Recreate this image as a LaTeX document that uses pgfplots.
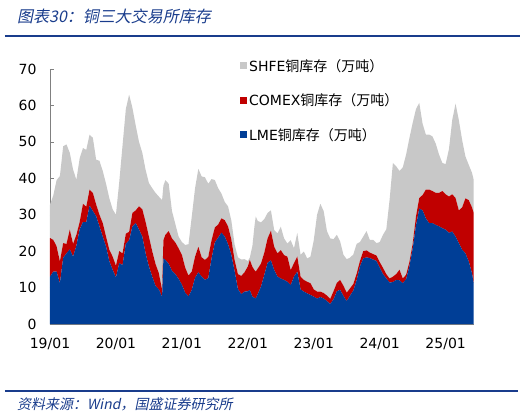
\documentclass[border=0pt]{standalone}
\usepackage{fontspec}
\setmainfont{DejaVu Sans}
\newfontfamily\cjk{Noto Sans CJK SC}
\newfontfamily\cjkit[FakeSlant=0.2]{Noto Sans CJK SC}
\usepackage{pgfplots}
\pgfplotsset{compat=1.18}
\usepackage{pgfplotstable}
\definecolor{shfec}{RGB}{200,200,200}
\definecolor{comexc}{RGB}{192,0,0}
\definecolor{lmec}{RGB}{0,62,150}
\definecolor{hdr}{RGB}{25,60,140}
\definecolor{axisgray}{RGB}{128,128,128}

\pgfplotstableread{
t lme comex shfe
0.00 13.0 10.6 9.2
0.05 14.4 8.7 12.2
0.10 14.4 6.9 18.2
0.15 11.2 6.0 23.4
0.20 18.2 4.0 26.6
0.25 19.4 2.6 27.3
0.30 20.5 5.4 21.1
0.35 18.5 3.5 20.4
0.40 21.5 3.0 15.1
0.45 26.0 2.0 17.5
0.50 28.0 5.0 15.3
0.55 28.0 4.2 15.6
0.60 32.5 4.4 15.1
0.65 31.0 5.0 15.1
0.70 29.6 3.2 12.3
0.75 26.8 3.2 14.8
0.80 24.0 3.7 14.3
0.85 21.3 2.7 14.5
0.90 17.2 3.2 14.1
0.95 14.9 3.6 13.0
1.00 12.8 3.2 14.0
1.05 16.7 3.3 19.0
1.10 16.2 3.2 29.6
1.15 22.0 2.8 34.2
1.20 23.0 2.3 37.7
1.25 26.8 3.7 28.8
1.30 27.7 3.5 23.3
1.35 25.9 6.4 17.7
1.40 24.0 7.5 15.5
1.45 19.4 8.6 14.3
1.50 15.8 8.2 14.7
1.55 13.0 7.0 17.3
1.60 10.5 6.0 19.5
1.65 9.5 4.5 21.0
1.70 7.5 1.9 24.6
1.72 18.0 5.0 15.0
1.75 17.6 6.9 15.0
1.80 16.5 9.0 13.0
1.85 14.6 8.9 7.5
1.90 13.7 8.7 5.1
1.95 12.4 8.4 3.2
2.00 10.8 8.2 3.5
2.05 8.6 6.9 6.2
2.10 7.6 5.7 8.6
2.15 9.4 5.0 15.1
2.20 12.7 5.8 18.8
2.25 14.2 7.0 21.4
2.30 13.0 5.3 22.2
2.35 12.1 5.5 22.7
2.40 12.6 5.8 20.1
2.45 18.0 5.0 16.8
2.50 22.4 4.1 13.0
2.55 23.7 3.6 10.0
2.60 25.1 3.9 6.8
2.65 24.0 4.5 5.0
2.70 21.9 4.9 5.5
2.75 19.0 4.2 5.2
2.80 14.5 3.0 4.3
2.85 9.6 4.1 4.6
2.90 8.2 5.0 4.5
2.95 8.9 5.3 3.6
3.00 9.0 6.8 1.5
3.03 9.3 8.3 0.6
3.07 7.5 8.2 5.8
3.10 7.2 7.6 12.0
3.12 7.0 7.4 15.1
3.15 8.2 7.0 13.1
3.20 10.3 6.3 11.3
3.25 13.5 6.1 9.2
3.30 16.8 6.7 7.0
3.35 17.5 8.1 5.6
3.40 14.8 6.4 4.6
3.45 13.0 6.4 5.5
3.50 12.5 7.8 6.4
3.55 12.1 6.8 4.6
3.60 11.6 6.9 3.6
3.65 10.7 4.1 8.2
3.70 13.0 3.7 4.1
3.75 14.4 4.1 6.5
3.80 9.5 3.5 6.0
3.85 8.9 3.2 7.8
3.90 8.4 3.2 6.4
3.95 8.0 3.2 7.3
4.00 7.5 2.0 13.5
4.05 7.0 1.9 21.1
4.10 7.4 1.5 24.1
4.15 7.0 1.5 22.5
4.20 6.3 1.5 17.7
4.25 5.5 1.4 16.6
4.30 6.8 2.2 14.3
4.35 9.0 2.3 13.2
4.40 9.4 2.7 10.6
4.45 7.7 2.8 8.5
4.50 6.3 2.3 9.2
4.55 7.8 2.0 8.4
4.60 9.2 1.8 8.1
4.65 12.0 1.8 8.2
4.70 15.8 1.5 5.2
4.75 18.0 2.0 4.0
4.80 18.3 1.9 5.3
4.85 18.1 1.5 3.5
4.90 17.7 1.5 3.9
4.95 17.3 1.5 3.4
5.00 15.5 1.5 5.5
5.05 13.7 1.7 9.1
5.10 12.5 1.2 12.3
5.15 11.4 1.1 21.6
5.20 11.5 1.5 31.2
5.25 12.1 1.6 29.6
5.30 12.0 2.9 27.1
5.35 11.2 1.3 30.5
5.40 12.3 1.2 33.0
5.45 15.8 1.2 34.0
5.50 20.7 1.3 33.2
5.55 27.0 2.5 29.5
5.60 31.7 2.9 26.1
5.65 31.2 4.2 19.6
5.70 29.0 7.9 15.1
5.75 27.7 9.2 15.1
5.80 27.7 8.8 15.0
5.85 27.2 8.8 13.5
5.90 26.8 9.2 10.5
5.95 26.3 10.2 7.7
6.00 25.9 9.7 8.3
6.05 25.0 10.0 13.0
6.10 25.4 10.2 20.4
6.15 24.0 10.6 25.9
6.20 22.2 9.0 24.8
6.25 20.4 11.6 18.5
6.30 19.4 15.1 11.5
6.35 17.2 16.8 9.7
6.40 13.9 18.1 9.5
6.425 11.2 19.3 9.1
}\stocks

\begin{document}
\begin{tikzpicture}
\begin{axis}[
  at={(0pt,0pt)}, anchor=south west,
  scale only axis, width=424pt, height=255pt,
  xmin=0, xmax=6.43, ymin=0, ymax=70,
  axis lines=left,
  axis line style={axisgray, -},
  xtick={0,1,2,3,4,5,6},
  xticklabels={19/01,20/01,21/01,22/01,23/01,24/01,25/01},
  ytick={0,10,20,30,40,50,60,70},
  tick style={axisgray, major tick length=4pt},
  tick align=inside,
  ticklabel style={font=\fontsize{14}{16}\selectfont},
  /pgf/number format/assume math mode=true,
  yticklabel style={xshift=-10pt},
  xticklabel style={yshift=-11pt},
  stack plots=y,
  reverse legend,
  legend cell align=left,
  legend image code/.code={\fill[#1] (0pt,-3.5pt) rectangle (7pt,3.5pt);},
  legend style={at={(0.448,1.047)}, anchor=north west, draw=none, fill=none,
    font=\fontsize{14}{16}\selectfont, row sep=17pt, inner sep=0pt},
]
\addplot[fill=lmec, draw=none] table[x=t, y=lme]{\stocks} \closedcycle;
\addplot[fill=comexc, draw=none] table[x=t, y=comex]{\stocks} \closedcycle;
\addplot[fill=shfec, draw=none] table[x=t, y=shfe]{\stocks} \closedcycle;
\legend{LME{\cjk 铜库存（万吨）},COMEX{\cjk 铜库存（万吨）},SHFE{\cjk 铜库存（万吨）}}
\end{axis}
\path (-50pt,-92pt) rectangle (475pt,324pt);
\node[anchor=base west, font=\cjkit\fontsize{16}{18}\selectfont, text=hdr, inner sep=0] at (-33pt,302pt) {图表30：铜三大交易所库存};
\draw[hdr, line width=2pt] (-45pt,288pt) -- (470pt,288pt);
\draw[hdr, line width=1.2pt] (-45pt,-67pt) -- (468pt,-67pt);
\node[anchor=base west, font=\cjkit\fontsize{14}{16}\selectfont, text=hdr, inner sep=0] at (-33pt,-85pt) {资料来源：Wind，国盛证券研究所};
\end{tikzpicture}
\end{document}
